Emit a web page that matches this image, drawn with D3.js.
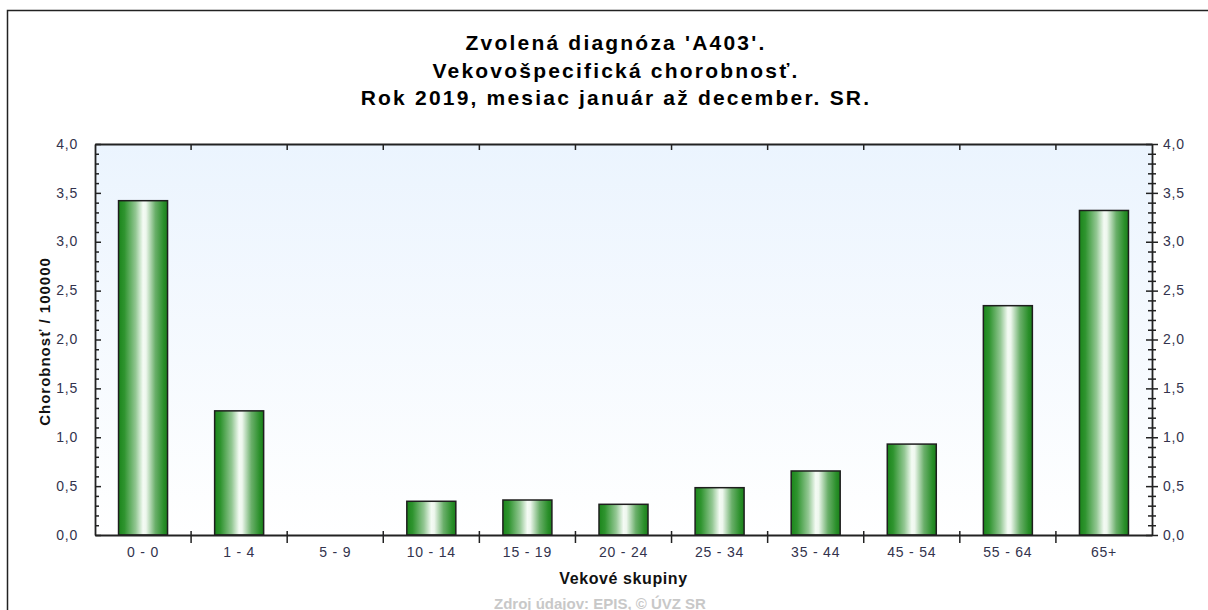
<!DOCTYPE html>
<html><head><meta charset="utf-8">
<script src="https://cdn.jsdelivr.net/npm/d3@7"></script>
<style>
html,body{margin:0;padding:0;background:#fff;}
svg{display:block;font-family:"Liberation Sans",Arial,sans-serif;}
</style></head>
<body>
<svg id="chart" width="1208" height="610"></svg>
<script>
const categories = ["0 - 0","1 - 4","5 - 9","10 - 14","15 - 19","20 - 24","25 - 34","35 - 44","45 - 54","55 - 64","65+"];
const values = [3.42, 1.27, 0, 0.345, 0.358, 0.314, 0.484, 0.655, 0.93, 2.346, 3.32];
const yMajorTicks = [0,0.5,1,1.5,2,2.5,3,3.5,4];
const titleLines = ["Zvolená diagnóza 'A403'.","Vekovošpecifická chorobnosť.","Rok 2019, mesiac január až december. SR."];
const xTitle = "Vekové skupiny";
const yTitle = "Chorobnosť / 100000";
const sourceText = "Zdroj údajov: EPIS, © ÚVZ SR";

const svg = d3.select("#chart");
const m = {left:95, right:1152, top:144, bottom:535};

const defs = svg.append("defs");
const bg = defs.append("linearGradient").attr("id","bg").attr("x1",0).attr("y1",0).attr("x2",0).attr("y2",1);
bg.append("stop").attr("offset","0%").attr("stop-color","#ebf4fe");
bg.append("stop").attr("offset","100%").attr("stop-color","#ffffff");
const bar = defs.append("linearGradient").attr("id","bar").attr("x1",0).attr("y1",0).attr("x2",1).attr("y2",0);
[[0,"#1b861b"],[0.12,"#2f942f"],[0.35,"#93c793"],[0.5,"#f4fbf4"],[0.56,"#eef7ee"],[0.75,"#6aaf6a"],[0.92,"#2a8f2a"],[1,"#1a7f1a"]]
  .forEach(([o,c])=>bar.append("stop").attr("offset",o).attr("stop-color",c));

// outer border
svg.append("rect").attr("x",7.5).attr("y",10.5).attr("width",1230).attr("height",640)
  .attr("fill","none").attr("stroke","#222").attr("stroke-width",1.5);

const x = d3.scaleBand().domain(categories).range([m.left,m.right]).paddingInner(0.49).paddingOuter(0.245);
const xb = d3.scaleBand().domain(categories).range([m.left,m.right]).padding(0);
const y = d3.scaleLinear().domain([0,4]).range([m.bottom,m.top]);

svg.append("rect").attr("x",m.left).attr("y",m.top).attr("width",m.right-m.left).attr("height",m.bottom-m.top).attr("fill","url(#bg)");

// titles
svg.append("g").selectAll("text").data(titleLines).join("text")
  .attr("x",616).attr("y",(d,i)=>50+i*27.5).attr("text-anchor","middle")
  .attr("font-size","21px").attr("font-weight","bold").attr("letter-spacing","2.2px")
  .attr("fill","#000").text(d=>d);

// bars
svg.append("g").selectAll("rect").data(values).join("rect")
  .attr("x",(d,i)=>x(categories[i])).attr("width",x.bandwidth())
  .attr("y",d=>y(d)).attr("height",d=>y(0)-y(d))
  .attr("fill","url(#bar)").attr("stroke",d=>d>0?"#1e1e1e":"none").attr("stroke-width",1.5);

const axisColor = "#222";
const labelColor = "#33334d";
const minorTicks = d3.range(0,41).map(d=>d/10).filter(v=>!yMajorTicks.some(t=>Math.abs(t-v)<1e-9));

function styleAxis(g){
  g.selectAll(".domain").attr("stroke",axisColor).attr("stroke-width",1.8);
  g.selectAll(".tick line").attr("stroke",axisColor).attr("stroke-width",1.5);
  g.selectAll("text").attr("fill",labelColor).attr("font-size","14px").attr("letter-spacing","0.8px")
    .attr("font-family","Liberation Sans, Arial, sans-serif");
}
const fmt = d=>d3.format(".1f")(d).replace(".",",");

// left axis
const gl = svg.append("g").attr("transform",`translate(${m.left},0)`)
  .call(d3.axisLeft(y).tickValues(yMajorTicks).tickFormat(fmt).tickSizeOuter(0).tickSizeInner(5).tickPadding(12));
gl.selectAll(".tick line").attr("x2",6);
styleAxis(gl);
gl.selectAll(".tick text").attr("dy","0.3em");
const glm = svg.append("g").attr("transform",`translate(${m.left},0)`)
  .call(d3.axisLeft(y).tickValues(minorTicks).tickFormat("").tickSizeOuter(0).tickSizeInner(3));
glm.select(".domain").remove();
glm.selectAll(".tick line").attr("x2",4).attr("stroke",axisColor).attr("stroke-width",1.5);

// right axis
const gr = svg.append("g").attr("transform",`translate(${m.right},0)`)
  .call(d3.axisRight(y).tickValues(yMajorTicks).tickFormat(fmt).tickSizeOuter(0).tickSizeInner(5).tickPadding(6));
gr.selectAll(".tick line").attr("x2",6).attr("x1",-6);
styleAxis(gr);
gr.selectAll(".tick text").attr("dy","0.3em");
const grm = svg.append("g").attr("transform",`translate(${m.right},0)`)
  .call(d3.axisRight(y).tickValues(minorTicks).tickFormat("").tickSizeOuter(0).tickSizeInner(4));
grm.select(".domain").remove();
grm.selectAll(".tick line").attr("x1",-4).attr("stroke",axisColor).attr("stroke-width",1.5);

// bottom axis
const boundaries = categories.slice(1);
const gb = svg.append("g").attr("transform",`translate(0,${m.bottom})`)
  .call(d3.axisBottom(xb).tickSizeOuter(0).tickSize(0).tickPadding(11));
styleAxis(gb);
gb.selectAll(".tick text").attr("dy","0.8em");
svg.append("g").selectAll("line").data(boundaries).join("line")
  .attr("x1",d=>xb(d)).attr("x2",d=>xb(d)).attr("y1",m.bottom-4).attr("y2",m.bottom+8)
  .attr("stroke",axisColor).attr("stroke-width",1.5);

// top axis
const gt = svg.append("g").attr("transform",`translate(0,${m.top})`)
  .call(d3.axisTop(xb).tickFormat("").tickSizeOuter(0).tickSize(0));
gt.select(".domain").attr("stroke",axisColor).attr("stroke-width",1.8);
svg.append("g").selectAll("line").data(boundaries).join("line")
  .attr("x1",d=>xb(d)).attr("x2",d=>xb(d)).attr("y1",m.top).attr("y2",m.top+6)
  .attr("stroke",axisColor).attr("stroke-width",1.5);

// axis titles
svg.append("text").attr("x",(m.left+m.right)/2).attr("y",584).attr("text-anchor","middle")
  .attr("font-size","16px").attr("font-weight","bold").attr("letter-spacing","0.6px").attr("fill","#111").text(xTitle);
svg.append("text").attr("transform",`translate(50,${(m.top+m.bottom)/2 + 2}) rotate(-90)`).attr("text-anchor","middle")
  .attr("font-size","15px").attr("font-weight","bold").attr("letter-spacing","1px").attr("fill","#111").text(yTitle);
svg.append("text").attr("x",600).attr("y",609).attr("text-anchor","middle")
  .attr("font-size","15px").attr("font-weight","bold").attr("fill","#c8c8c8").text(sourceText);
</script>
</body></html>
